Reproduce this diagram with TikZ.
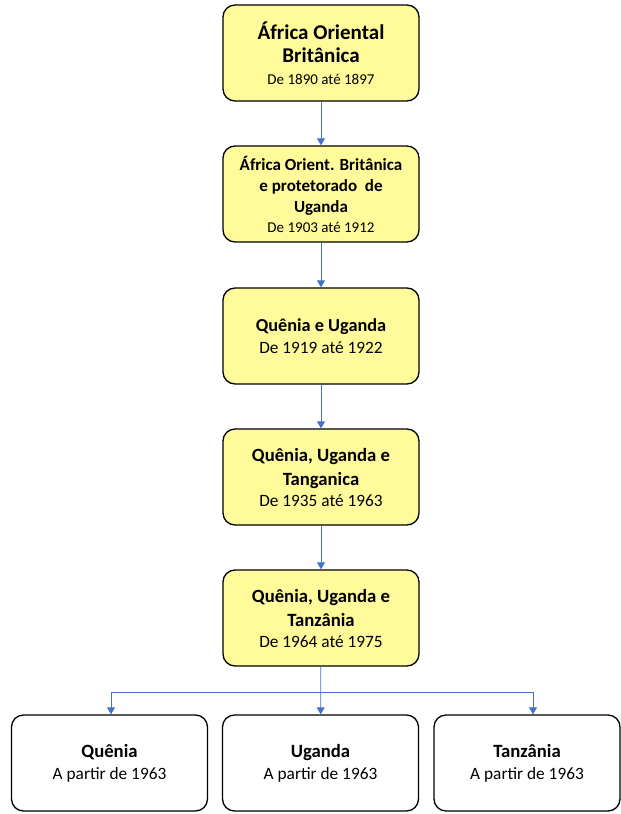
\documentclass[tikz,border=0pt]{standalone}
\usepackage{fontspec}
\setmainfont{Carlito}
\usetikzlibrary{arrows.meta}
\definecolor{boxy}{HTML}{FFFA9A}
\definecolor{arr}{HTML}{4472C4}
\begin{document}
\begin{tikzpicture}[x=1pt,y=-1pt,
  box/.style={draw=black, line width=1.3pt, rounded corners=12pt, minimum width=196pt, minimum height=96pt, align=center, inner sep=2pt},
  ybox/.style={box, fill=boxy},
  wbox/.style={box, fill=white},
  plainline/.style={draw=arr, line width=0.8pt},
  link/.style={plainline, -{Triangle[length=7pt,width=8pt]}}]
\useasboundingbox (0,0) rectangle (621,814);
\node[ybox, font=\fontsize{21}{23}\selectfont\bfseries] (b1) at (321,53) {África Oriental\\ Britânica\\[-1pt] \fontsize{15}{23}\selectfont\mdseries De 1890 até 1897};
\node[ybox, font=\fontsize{17}{21}\selectfont\bfseries] (b2) at (321,194) {África Orient. Britânica\\ e protetorado\ \ de\\ Uganda\\[-1pt] \fontsize{15}{21}\selectfont\mdseries De 1903 até 1912};
\node[ybox, font=\fontsize{18.3}{22}\selectfont\bfseries] (b3) at (321,336) {Quênia e Uganda\\ \fontsize{17.3}{22}\selectfont\mdseries De 1919 até 1922};
\node[ybox, font=\fontsize{18.7}{24}\selectfont\bfseries] (b4) at (321,477) {Quênia, Uganda e\\ Tanganica\\[-3pt] \fontsize{17.3}{24}\selectfont\mdseries De 1935 até 1963};
\node[ybox, font=\fontsize{18.7}{24}\selectfont\bfseries] (b5) at (321,618) {Quênia, Uganda e\\ Tanzânia\\[-3pt] \fontsize{17.3}{24}\selectfont\mdseries De 1964 até 1975};
\node[wbox, font=\fontsize{18.7}{22}\selectfont\bfseries] (q) at (109.5,763) {Quênia\\ \fontsize{17.3}{22}\selectfont\mdseries A partir de 1963};
\node[wbox, font=\fontsize{18.7}{22}\selectfont\bfseries] (u) at (320.5,763) {Uganda\\ \fontsize{17.3}{22}\selectfont\mdseries A partir de 1963};
\node[wbox, minimum width=186pt, font=\fontsize{18.7}{22}\selectfont\bfseries] (t) at (527,763) {Tanzânia\\ \fontsize{17.3}{22}\selectfont\mdseries A partir de 1963};
\coordinate (jl) at (111,692);
\coordinate (jr) at (533,692);
\draw[link] (b1) -- (b2);
\draw[link] (b2) -- (b3);
\draw[link] (b3) -- (b4);
\draw[link] (b4) -- (b5);
\draw[link] (b5) -- (u);
\draw[plainline] (jl) -- (jr);
\draw[link] (jl) -- (jl |- q.north);
\draw[link] (jr) -- (jr |- t.north);
\end{tikzpicture}
\end{document}
